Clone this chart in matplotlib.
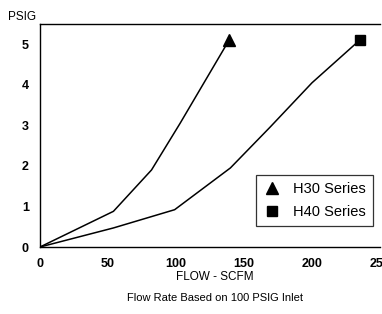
import matplotlib
matplotlib.use('Agg')
from matplotlib import pyplot as plt
from matplotlib.lines import Line2D

plt.rcParams['font.family'] = ['Liberation Sans Narrow', 'Liberation Sans', 'DejaVu Sans']

# H30 series
h30_flow = [0, 54, 82, 103, 139]
h30_psig = [0, 0.88, 1.9, 3.05, 5.1]
# H40 series
h40_flow = [0, 54, 99, 140, 169, 200, 235]
h40_psig = [0, 0.47, 0.92, 1.95, 2.95, 4.05, 5.1]

x_ticks = [0, 50, 100, 150, 200, 250]
y_ticks = [0, 1, 2, 3, 4, 5]

fig = plt.figure(figsize=(3.82, 3.14), dpi=100)
ax = fig.add_axes([40 / 382, 67 / 314, 340 / 382, 223 / 314])

ax.plot(h30_flow, h30_psig, color='black', lw=1.1)
ax.plot(h40_flow, h40_psig, color='black', lw=1.1)
ax.plot(h30_flow[-1], h30_psig[-1], marker='^', color='black', ms=8, ls='none')
ax.plot(h40_flow[-1], h40_psig[-1], marker='s', color='black', ms=7, ls='none')

ax.set_xlim(0, 250)
ax.set_ylim(0, 5.5)
ax.set_xticks(x_ticks)
ax.set_yticks(y_ticks)
ax.tick_params(length=0, labelsize=9, pad=8)
for lab in ax.get_xticklabels() + ax.get_yticklabels():
    lab.set_fontweight('bold')
ax.spines['right'].set_visible(False)
for s in ['left', 'bottom', 'top']:
    ax.spines[s].set_linewidth(1.0)

fig.text(22 / 382, 1 - 17 / 314, 'PSIG', fontsize=8.5, ha='center', va='center')
fig.text(215 / 382, 1 - 277 / 314, 'FLOW - SCFM', fontsize=8.5, ha='center', va='center')
fig.text(215 / 382, 1 - 298 / 314, 'Flow Rate Based on 100 PSIG Inlet', fontsize=8, ha='center', va='center')

handles = [Line2D([], [], marker='^', color='black', ls='none', ms=8),
           Line2D([], [], marker='s', color='black', ls='none', ms=7)]
leg = ax.legend(handles, ['H30 Series', 'H40 Series'], loc='lower right',
                bbox_to_anchor=(1.0, 0.06), fontsize=10.5, frameon=True, fancybox=False,
                edgecolor='black', handletextpad=0.8, borderpad=0.5, labelspacing=0.6,
                handlelength=1.2)
leg.get_frame().set_linewidth(0.9)

plt.savefig('out.png', dpi=100, facecolor='white')
